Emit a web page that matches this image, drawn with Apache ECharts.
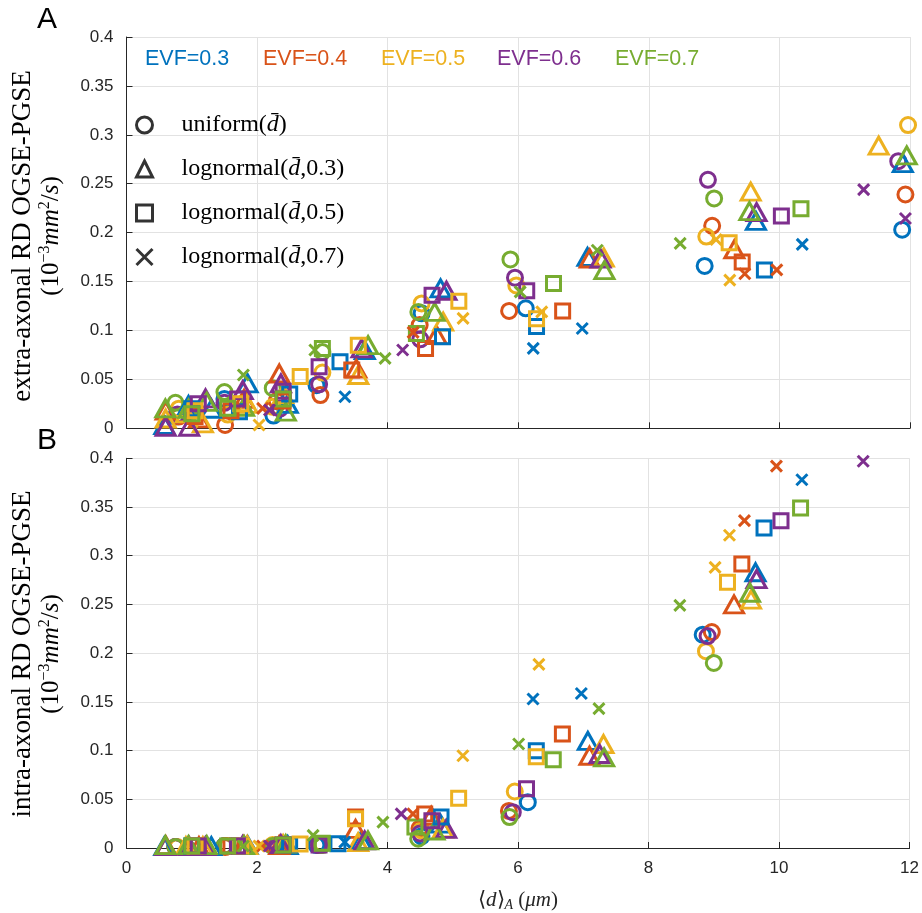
<!DOCTYPE html>
<html><head><meta charset="utf-8">
<script src="https://cdn.jsdelivr.net/npm/echarts@6/dist/echarts.min.js"></script>
<style>html,body{margin:0;padding:0;background:#fff}#c{width:922px;height:913px}</style>
</head><body><div id="c"></div>
<script>
// colours and labels
const colors = ['#0072BD', '#D95319', '#EDB120', '#7E2F8E', '#77AC30'];
const evfLabels = ['EVF=0.3', 'EVF=0.4', 'EVF=0.5', 'EVF=0.6', 'EVF=0.7'];
const distKeys = ['uniform', 'ln03', 'ln05', 'ln07'];
const xTicks = [0, 2, 4, 6, 8, 10, 12];
const yTicks = [0, 0.05, 0.1, 0.15, 0.2, 0.25, 0.3, 0.35, 0.4];

// Panel A: extra-axonal, one sub-array per EVF (0.3 .. 0.7), points [<d>_A, RD]
const extraUniform = [
  [[0.75,0.012],[1.5,0.03],[2.25,0.013],[2.91,0.044],[4.52,0.1175],[6.115,0.1226],[8.855,0.166],[11.88,0.203]],
  [[0.8,0.012],[1.51,0.0034],[2.3,0.028],[2.97,0.034],[4.49,0.1055],[5.86,0.120],[8.97,0.207],[11.93,0.239]],
  [[0.8,0.02],[1.55,0.014],[2.24,0.022],[3.0,0.057],[4.52,0.1277],[5.97,0.146],[8.88,0.196],[11.97,0.310]],
  [[0.78,0.014],[1.5,0.026],[2.35,0.02],[2.95,0.045],[4.50,0.091],[5.95,0.154],[8.905,0.254],[11.82,0.273]],
  [[0.75,0.026],[1.5,0.037],[2.24,0.041],[3.0,0.078],[4.47,0.119],[5.88,0.1726],[9.0,0.235]]
];
const extraLog03 = [
  [[0.58,0.0034],[0.95,0.0238],[1.3,0.02],[1.855,0.046],[2.47,0.025],[3.65,0.08],[4.81,0.143],[7.06,0.1753],[9.64,0.212],[11.89,0.271]],
  [[0.6,0.018],[1.11,0.0102],[1.8,0.03],[2.34,0.056],[3.52,0.061],[4.75,0.0953],[7.095,0.1736],[9.31,0.183]],
  [[0.6,0.01],[0.91,0.0153],[1.17,0.005],[1.85,0.025],[2.4,0.035],[3.55,0.0545],[4.85,0.109],[7.31,0.1746],[9.56,0.242],[11.52,0.289]],
  [[0.6,0.0016],[0.96,0.0016],[1.21,0.0306],[1.78,0.039],[2.365,0.046],[3.6,0.0817],[4.90,0.1406],[7.26,0.1736],[9.65,0.221]],
  [[0.595,0.0204],[0.95,0.02],[1.23,0.027],[1.8,0.022],[2.44,0.017],[3.70,0.085],[4.72,0.119],[7.32,0.1617],[9.54,0.222],[11.95,0.279]]
];
const extraLog05 = [
  [[1.0,0.02],[1.73,0.017],[2.5,0.035],[3.27,0.068],[4.84,0.0936],[6.28,0.104],[9.77,0.1617]],
  [[1.05,0.012],[1.6,0.018],[2.4,0.028],[3.45,0.0596],[4.58,0.0817],[6.68,0.120],[9.43,0.170]],
  [[1.05,0.018],[1.75,0.025],[2.66,0.053],[3.55,0.085],[5.09,0.130],[6.28,0.112],[9.23,0.1896]],
  [[1.1,0.025],[1.7,0.03],[2.4,0.038],[2.95,0.063],[4.68,0.136],[6.13,0.1406],[10.03,0.217]],
  [[1.0,0.015],[1.55,0.0204],[2.4,0.03],[3.0,0.0817],[4.44,0.097],[6.54,0.148],[10.33,0.2245]]
];
const extraLog07 = [
  [[3.345,0.0323],[6.23,0.0817],[6.98,0.102],[10.35,0.188]],
  [[2.085,0.0204],[4.39,0.098],[9.47,0.158],[9.96,0.162]],
  [[2.03,0.0034],[5.155,0.1124],[6.36,0.119],[9.03,0.193],[9.24,0.1515]],
  [[2.19,0.0187],[4.23,0.080],[11.29,0.244],[11.93,0.2145]],
  [[1.79,0.0545],[2.885,0.080],[3.96,0.0715],[6.03,0.1395],[7.21,0.182],[8.48,0.189]]
];

// Panel B: intra-axonal
const intraUniform = [
  [[0.75,0.001],[1.5,0.002],[2.25,0.002],[2.91,0.003],[4.52,0.012],[6.15,0.047],[8.83,0.219]],
  [[0.75,0.001],[1.51,0.001],[2.25,0.002],[2.97,0.003],[4.49,0.02],[5.86,0.038],[8.97,0.2216]],
  [[0.78,0.001],[1.55,0.002],[2.24,0.003],[3.0,0.004],[4.52,0.018],[5.95,0.058],[8.88,0.202]],
  [[0.75,0.001],[1.5,0.002],[2.3,0.002],[2.95,0.003],[4.5,0.015],[5.92,0.0368],[8.905,0.2175]],
  [[0.75,0.001],[1.5,0.002],[2.24,0.002],[3.0,0.003],[4.47,0.0095],[5.87,0.0317],[9.0,0.19]]
];
const intraLog03 = [
  [[0.58,0.002],[0.95,0.002],[1.3,0.002],[1.855,0.003],[2.47,0.003],[3.6,0.008],[4.81,0.025],[7.07,0.11],[9.64,0.283]],
  [[0.6,0.003],[1.11,0.002],[1.8,0.003],[2.34,0.003],[3.51,0.0197],[4.67,0.033],[7.095,0.0947],[9.31,0.25]],
  [[0.6,0.002],[0.91,0.002],[1.17,0.002],[1.85,0.003],[2.4,0.004],[3.55,0.006],[4.85,0.02],[7.31,0.1067],[9.57,0.255]],
  [[0.6,0.002],[0.96,0.002],[1.21,0.002],[1.78,0.003],[2.365,0.004],[3.65,0.0078],[4.90,0.0197],[7.25,0.0965],[9.655,0.276]],
  [[0.595,0.003],[0.95,0.003],[1.23,0.003],[1.8,0.003],[2.44,0.004],[3.70,0.0078],[4.72,0.018],[7.32,0.093],[9.555,0.262]]
];
const intraLog05 = [
  [[1.0,0.002],[1.73,0.002],[2.5,0.003],[3.24,0.0044],[4.82,0.0317],[6.28,0.0999],[9.77,0.3284]],
  [[1.05,0.002],[1.6,0.002],[2.4,0.003],[3.51,0.0317],[4.57,0.035],[6.68,0.117],[9.43,0.2916]],
  [[1.05,0.002],[1.75,0.002],[2.66,0.004],[3.51,0.03],[5.09,0.051],[6.28,0.0937],[9.21,0.2727]],
  [[1.1,0.002],[1.7,0.002],[2.4,0.003],[2.95,0.003],[4.68,0.028],[6.13,0.0607],[10.03,0.336]],
  [[1.0,0.002],[1.55,0.002],[2.4,0.003],[3.0,0.005],[4.42,0.0215],[6.54,0.0907],[10.33,0.349]]
];
const intraLog07 = [
  [[3.345,0.006],[6.23,0.153],[6.97,0.1586],[10.35,0.378]],
  [[2.085,0.002],[4.39,0.035],[9.47,0.336],[9.96,0.392]],
  [[2.03,0.002],[5.155,0.0947],[6.32,0.1885],[9.02,0.288],[9.24,0.321]],
  [[2.19,0.002],[4.21,0.035],[11.29,0.397]],
  [[1.79,0.002],[2.86,0.013],[3.93,0.0266],[6.01,0.1067],[7.24,0.143],[8.48,0.249]]
];

const crossPath = 'path://M0,0L10,10M10,0L0,10';
const markers = {
  uniform: {symbol: 'circle', size: 15},
  ln03: {symbol: 'triangle', size: [19, 17]},
  ln05: {symbol: 'rect', size: 14},
  ln07: {symbol: crossPath, size: 11}
};
const legendText = {
  uniform: '{n|uniform(}{i|d\u0304}{n|)}',
  ln03: '{n|lognormal(}{i|d\u0304}{n|,0.3)}',
  ln05: '{n|lognormal(}{i|d\u0304}{n|,0.5)}',
  ln07: '{n|lognormal(}{i|d\u0304}{n|,0.7)}'
};

const panels = [
  {grid: 0, sets: {uniform: extraUniform, ln03: extraLog03, ln05: extraLog05, ln07: extraLog07}},
  {grid: 1, sets: {uniform: intraUniform, ln03: intraLog03, ln05: intraLog05, ln07: intraLog07}}
];

const series = [];
panels.forEach(p => {
  distKeys.forEach(k => {
    p.sets[k].forEach((pts, e) => {
      series.push({
        type: 'scatter', xAxisIndex: p.grid, yAxisIndex: p.grid,
        symbol: markers[k].symbol, symbolSize: markers[k].size,
        itemStyle: {color: 'transparent', borderColor: colors[e], borderWidth: 3, opacity: 1},
        data: pts, silent: true
      });
    });
  });
});
// black legend entries
distKeys.forEach(k => {
  series.push({
    type: 'scatter', name: k, xAxisIndex: 0, yAxisIndex: 0,
    symbol: markers[k].symbol, symbolSize: markers[k].size,
    itemStyle: {color: 'transparent', borderColor: '#000', borderWidth: 3},
    data: []
  });
});

const axisCol = '#262626';
function xAx(g, labels) {
  return {
    gridIndex: g, type: 'value', min: xTicks[0], max: xTicks[xTicks.length - 1], interval: 2,
    axisLine: {show: true, onZero: false, lineStyle: {color: axisCol, width: 1}},
    axisTick: {show: true, inside: true, length: 6, lineStyle: {color: axisCol}},
    axisLabel: {show: labels, color: axisCol, fontSize: 17, fontFamily: 'Liberation Sans', margin: 12},
    splitLine: {show: true, lineStyle: {color: '#e2e2e2', width: 1}},
    name: labels ? '\u27E8{it|d}\u27E9{sub|A} ({it|\u03BCm})' : '',
    nameLocation: 'middle', nameGap: 40,
    nameTextStyle: {color: axisCol, fontFamily: 'Liberation Serif', fontSize: 21,
      rich: {it: {fontStyle: 'italic', fontFamily: 'Liberation Serif', fontSize: 21, color: axisCol},
             sub: {fontStyle: 'italic', fontFamily: 'Liberation Serif', fontSize: 14, color: axisCol, padding: [10, 0, 0, 0]}}}
  };
}
function yAx(g) {
  return {
    gridIndex: g, type: 'value', min: yTicks[0], max: yTicks[yTicks.length - 1], interval: 0.05,
    axisLine: {show: true, onZero: false, lineStyle: {color: axisCol, width: 1}},
    axisTick: {show: true, inside: true, length: 6, lineStyle: {color: axisCol}},
    axisLabel: {color: axisCol, fontSize: 17, fontFamily: 'Liberation Sans', margin: 13,
      formatter: v => String(+v.toFixed(2))},
    splitLine: {show: true, lineStyle: {color: '#e2e2e2', width: 1}}
  };
}

const serif = 'Liberation Serif';
const graphic = [];
const evfX = [145, 263, 381, 497, 615];
evfLabels.forEach((t, i) => {
  graphic.push({type: 'text', left: evfX[i], top: 48, z: 10,
    style: {text: t, fill: colors[i], fontSize: 21.5, fontFamily: 'Liberation Sans'}});
});
graphic.push({type: 'text', left: 37, top: 5, style: {text: 'A', fill: '#000', fontSize: 30, fontFamily: 'Liberation Sans'}});
graphic.push({type: 'text', left: 37, top: 426, style: {text: 'B', fill: '#000', fontSize: 30, fontFamily: 'Liberation Sans'}});
const yTitles = [
  {cy: 236, line1: 'extra-axonal RD OGSE-PGSE'},
  {cy: 654, line1: 'intra-axonal RD OGSE-PGSE'}
];
const richY = {
  n: {fontFamily: serif, fontSize: 25, fill: '#000'},
  it: {fontFamily: serif, fontSize: 25, fontStyle: 'italic', fill: '#000'},
  sup: {fontFamily: serif, fontSize: 16, fill: '#000', padding: [0, 0, 12, 0]}
};
yTitles.forEach(t => {
  graphic.push({type: 'text', x: 23, y: t.cy, rotation: Math.PI / 2,
    style: {text: t.line1, fill: '#000', fontSize: 27, fontFamily: serif, align: 'center', verticalAlign: 'middle'}});
  graphic.push({type: 'text', x: 51, y: t.cy, rotation: Math.PI / 2,
    style: {text: '{n|(10}{sup|\u22123}{it|mm}{sup|2}{n|/}{it|s}{n|)}', rich: richY, align: 'center', verticalAlign: 'middle'}});
});

const option = {
  animation: false,
  backgroundColor: '#fff',
  grid: [
    {left: 126.5, top: 37, right: 12, height: 391.3},
    {left: 126.5, top: 458.3, right: 12, height: 391}
  ],
  xAxis: [xAx(0, false), xAx(1, true)],
  yAxis: [yAx(0), yAx(1)],
  legend: {
    data: distKeys, orient: 'vertical', left: 130, top: 108, itemGap: 20,
    itemWidth: 16, itemHeight: 16,
    itemStyle: {color: 'transparent', borderColor: '#000', borderWidth: 3},
    formatter: n => legendText[n],
    textStyle: {fontFamily: serif, fontSize: 24, color: '#000', padding: [0, 0, 0, 24],
      rich: {n: {fontFamily: serif, fontSize: 24, color: '#000'},
             i: {fontFamily: serif, fontSize: 24, fontStyle: 'italic', color: '#000'}}},
    selectedMode: false
  },
  graphic: graphic,
  series: series
};
const chart = echarts.init(document.getElementById('c'), null, {renderer: 'canvas'});
chart.setOption(option);
</script></body></html>
